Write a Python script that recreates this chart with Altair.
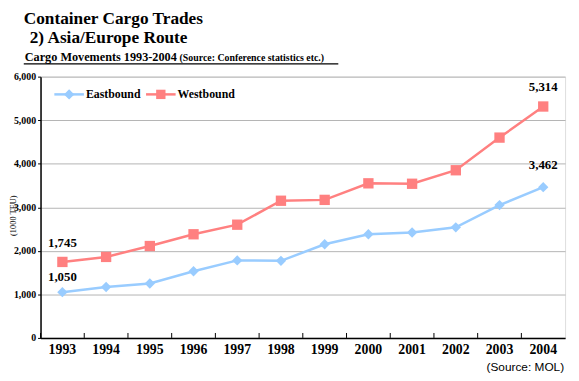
import altair as alt
import pandas as pd

years = [str(y) for y in range(1993, 2005)]
eastbound = [1050, 1170, 1250, 1530, 1780, 1770, 2150, 2380, 2420, 2540, 3050, 3462]
westbound = [1745, 1860, 2110, 2380, 2600, 3150, 3170, 3550, 3540, 3850, 4600, 5314]
series_names = ["Eastbound", "Westbound"]
series_colors = ["#99CCFF", "#FF8080"]
y_ticks = [0, 1000, 2000, 3000, 4000, 5000, 6000]

SERIF = "Liberation Serif"

df = pd.DataFrame({
    "Year": years * 2,
    "Value": eastbound + westbound,
    "Series": [series_names[0]] * len(years) + [series_names[1]] * len(years),
})

xscale = alt.Scale(type="band", domain=years, paddingInner=0, paddingOuter=0)
yscale = alt.Scale(domain=[0, 6000])
color = alt.Color("Series:N", scale=alt.Scale(domain=series_names, range=series_colors), legend=None)

x_enc = alt.X("Year:O", bandPosition=0.5, scale=xscale,
              axis=alt.Axis(title=None, labelAngle=0, ticks=False, labelFont=SERIF,
                            labelFontWeight="bold", labelFontSize=14, labelColor="#000",
                            labelPadding=5, domainColor="#000", domainWidth=1.5))
y_enc = alt.Y("Value:Q", scale=yscale,
              axis=alt.Axis(values=y_ticks, format=",d", title=None, labelFont=SERIF,
                            labelFontWeight="bold", labelFontSize=10, labelColor="#000",
                            tickColor="#000", tickSize=3, domainColor="#000", domainWidth=1.5,
                            gridColor="#b4b4b4", gridWidth=1))

px = alt.X("Year:O", bandPosition=0.5, scale=xscale)
py = alt.Y("Value:Q", scale=yscale)

lines = alt.Chart(df).mark_line(strokeWidth=2.5).encode(x=x_enc, y=y_enc, color=color, detail="Series:N")
east_pts = alt.Chart(df[df["Series"] == series_names[0]]).mark_point(
    shape="diamond", filled=True, size=110, opacity=1).encode(x=px, y=py, color=color)
west_pts = alt.Chart(df[df["Series"] == series_names[1]]).mark_point(
    shape="square", filled=True, size=110, opacity=1).encode(x=px, y=py, color=color)

def val_label(series, year, dy):
    d = df[(df["Series"] == series) & (df["Year"] == year)]
    return alt.Chart(d).mark_text(font=SERIF, fontWeight="bold", fontSize=13, dy=dy,
                                  baseline="bottom", color="#000").encode(
        x=px, y=py, text=alt.Text("Value:Q", format=","))

labels = [
    val_label(series_names[1], years[0], -12),
    val_label(series_names[0], years[0], -8),
    val_label(series_names[1], years[-1], -13),
    val_label(series_names[0], years[-1], -15),
]

# inward x ticks at category boundaries
xticks = alt.Chart(pd.DataFrame({"Year": years})).mark_rule(color="#000", strokeWidth=1).encode(
    x=alt.X("Year:O", bandPosition=0, scale=xscale), y=alt.value(265), y2=alt.value(260))

def txt(s, x, y, size, weight="bold", font=SERIF, align="left", angle=0, baseline="alphabetic"):
    return alt.Chart(pd.DataFrame({"t": [s]})).mark_text(
        font=font, fontSize=size, fontWeight=weight, align=align, baseline=baseline,
        angle=angle, color="#000").encode(text="t:N", x=alt.value(x), y=alt.value(y))

title1 = txt("Container Cargo Trades", -17, -53, 17.5)
title2 = txt("2) Asia/Europe Route", -11, -34, 17.5)
title3 = txt("Cargo Movements 1993-2004", -16, -16, 12.4)
title4 = txt("(Source: Conference statistics etc.)", 141, -16, 10)
underline = alt.Chart(pd.DataFrame({"t": [0]})).mark_rule(color="#000", strokeWidth=1.2).encode(
    x=alt.value(-17), x2=alt.value(302), y=alt.value(-13))
source = txt("(Source: MOL)", 531, 299, 12, weight="normal", font="Liberation Sans", align="right")
ytitle = txt("(1000 TEU)", -28, 141, 8.5, weight="normal", align="center", angle=270,
             baseline="middle")

# legend
def leg(i, shape, size, x0):
    line = alt.Chart(pd.DataFrame({"t": [0]})).mark_rule(color=series_colors[i], strokeWidth=2.5).encode(
        x=alt.value(x0), x2=alt.value(x0 + 30), y=alt.value(18))
    pt = alt.Chart(pd.DataFrame({"t": [0]})).mark_point(
        shape=shape, filled=True, size=size, opacity=1, color=series_colors[i]).encode(
        x=alt.value(x0 + 15), y=alt.value(18))
    t = txt(series_names[i], x0 + 32, 22, 12)
    return [line, pt, t]

legend_layers = leg(0, "diamond", 110, 14) + leg(1, "square", 90, 107)

chart = alt.layer(
    lines, east_pts, west_pts, *labels, xticks,
    title1, title2, title3, title4, underline, source, ytitle,
    *legend_layers,
).properties(
    width=532, height=265,
    autosize=alt.AutoSizeParams(type="none"),
    padding={"left": 33, "top": 67, "right": 6, "bottom": 35},
).configure_view(stroke="#888888", strokeWidth=1.5).configure(background="white")

chart.save("out.html", embed_options={"renderer": "svg", "actions": False})
